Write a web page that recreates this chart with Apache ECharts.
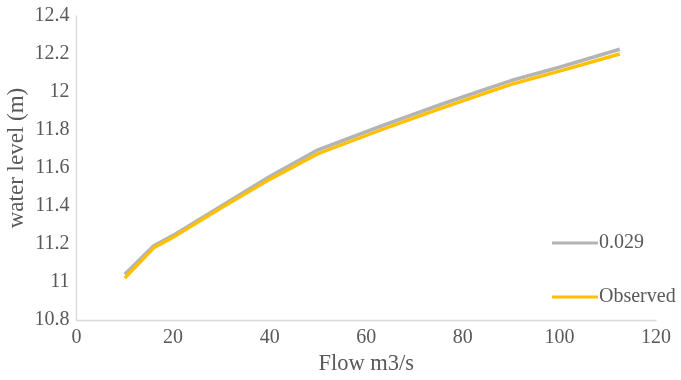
<!DOCTYPE html>
<html>
<head>
<meta charset="utf-8">
<script src="https://cdn.jsdelivr.net/npm/echarts@6/dist/echarts.min.js"></script>
<style>html,body{margin:0;padding:0;background:#fff}#c{width:681px;height:380px}</style>
</head>
<body>
<div id="c"></div>
<script>
const flows = [10, 16, 20, 30, 40, 50, 63, 75, 83, 90, 100, 112.5];
const sim029 = [11.04, 11.19, 11.245, 11.40, 11.555, 11.695, 11.82, 11.93, 12.00, 12.06, 12.13, 12.225];
const observed = [11.02, 11.18, 11.235, 11.39, 11.54, 11.675, 11.80, 11.91, 11.98, 12.04, 12.11, 12.20];
const seriesNames = ['0.029', 'Observed'];
const xTitle = 'Flow m3/s';
const yTitle = 'water level (m)';

const font = '"Liberation Serif", "Times New Roman", serif';
const pairs = arr => flows.map((f, i) => [f, arr[i]]);
const chart = echarts.init(document.getElementById('c'), null, {renderer: 'canvas'});
chart.setOption({
  animation: false,
  backgroundColor: '#fff',
  grid: {left: 76.5, right: 25, top: 16, bottom: 60, containLabel: false, outerBoundsMode: 'none'},
  legend: {
    orient: 'vertical', left: 547, top: 228, itemGap: 34,
    itemWidth: 46, itemHeight: 16,
    textStyle: {fontFamily: font, fontSize: 20, color: '#595959', padding: [0, 0, 0, -4]},
    data: seriesNames.map(n => ({name: n, icon: 'path://M0,0 L46,0 L46,3.2 L0,3.2 Z'}))
  },
  xAxis: {
    type: 'value', min: 0, max: 120, interval: 20,
    name: xTitle, nameLocation: 'middle', nameGap: 33, nameMoveOverlap: false,
    nameTextStyle: {fontFamily: font, fontSize: 22.5, color: '#595959'},
    axisLine: {show: true, lineStyle: {color: '#D9D9D9', width: 1.3}},
    axisTick: {show: false}, splitLine: {show: false},
    axisLabel: {fontFamily: font, fontSize: 20, color: '#595959', margin: 8}
  },
  yAxis: {
    type: 'value', min: 10.8, max: 12.4, interval: 0.2,
    name: yTitle, nameLocation: 'middle', nameGap: 48, nameRotate: 90, nameMoveOverlap: false,
    nameTextStyle: {fontFamily: font, fontSize: 23, color: '#595959', padding: [0, 0, 0, 20]},
    axisLine: {show: true, lineStyle: {color: '#D9D9D9', width: 1.3}},
    axisTick: {show: false}, splitLine: {show: false},
    axisLabel: {fontFamily: font, fontSize: 20, color: '#595959', margin: 7,
      formatter: v => String(Math.round(v * 10) / 10)}
  },
  series: [
    {name: seriesNames[0], type: 'line', data: pairs(sim029), symbol: 'none',
     lineStyle: {color: '#B4B4B4', width: 3.6}, itemStyle: {color: '#B4B4B4'}},
    {name: seriesNames[1], type: 'line', data: pairs(observed), symbol: 'none',
     lineStyle: {color: '#FFC000', width: 3.4}, itemStyle: {color: '#FFC000'}}
  ]
});
</script>
</body>
</html>
